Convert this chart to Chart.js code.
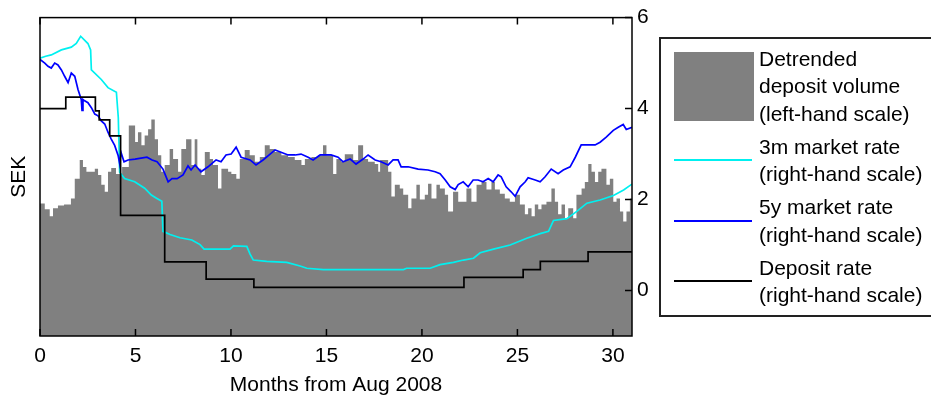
<!DOCTYPE html>
<html>
<head>
<meta charset="utf-8">
<script src="https://cdn.jsdelivr.net/npm/chart.js@4"></script>
<style>
  html, body { margin: 0; padding: 0; background: #ffffff; }
  #wrap { width: 931px; height: 398px; }
</style>
</head>
<body>
<div id="wrap"><canvas id="chart" width="931" height="398"></canvas></div>
<script>
// Months from Aug 2008
const xTicks = [0, 5, 10, 15, 20, 25, 30];
const rateTicks = [0, 2, 4, 6];

// Detrended deposit volume (left-hand scale, index units), value held from each month mark
const volMonths = [0,0.25,0.51,0.68,0.94,1.26,1.62,1.82,2.08,2.25,
  2.43,2.69,2.87,3.04,3.21,3.39,3.56,3.73,3.98,4.3,
  4.65,4.98,5.13,5.31,5.48,5.66,5.83,6.01,6.18,6.35,
  6.53,6.79,6.97,7.23,7.4,7.65,7.93,8.1,8.24,8.45,
  8.63,8.89,9.06,9.32,9.5,9.85,10.02,10.28,10.46,10.72,
  10.98,11.25,11.51,11.77,12.03,12.29,12.64,12.99,13.34,13.69,
  13.87,14.21,14.56,14.82,15.0,15.35,15.52,15.78,15.96,16.4,
  16.66,16.92,17.18,17.53,17.71,17.81,18.23,18.4,18.58,18.84,
  19.02,19.28,19.45,19.71,19.89,20.15,20.32,20.5,20.76,20.94,
  21.2,21.37,21.63,21.9,22.33,22.59,22.86,23.12,23.38,23.64,
  23.82,24.08,24.34,24.6,24.87,25.13,25.39,25.56,25.74,25.91,
  26.09,26.26,26.52,26.78,26.96,27.13,27.31,27.49,27.66,27.92,
  28.09,28.36,28.53,28.71,28.88,29.06,29.23,29.4,29.66,29.84,
  30.02,30.19,30.37,30.54,30.71,30.89,31];
const depositVolume = [41.6,39.8,37.6,40.1,41.0,41.3,43.2,49.4,55.3,53.1,
  51.6,51.6,52.5,50.6,47.5,45.3,51.6,52.8,50.9,53.1,
  66.1,60.9,64.0,59.9,63.0,64.9,68.0,61.8,56.8,51.6,
  53.7,58.7,55.6,51.6,58.7,61.8,53.7,61.8,52.5,50.6,
  57.8,55.6,53.7,46.3,52.5,51.6,50.9,49.4,55.6,58.4,
  56.8,54.7,56.2,59.9,58.7,57.8,56.8,56.2,55.3,53.7,
  55.6,56.2,56.8,59.9,56.8,50.9,55.6,54.7,57.1,55.3,
  59.9,55.6,54.7,54.0,51.6,55.3,51.6,43.8,47.5,46.3,
  44.4,40.1,43.2,47.5,42.9,44.4,47.8,43.2,47.5,46.3,
  44.4,39.1,45.3,42.2,46.3,42.2,47.5,48.4,46.0,48.4,
  46.0,44.7,43.2,42.2,44.4,41.3,38.2,40.1,37.6,41.3,
  39.8,41.3,42.2,46.3,42.2,38.2,41.3,37.0,40.1,37.0,
  44.4,46.3,48.4,54.0,51.6,48.4,51.6,52.5,47.5,49.4,
  42.2,43.2,39.1,36.0,39.1,43.2,43.2];

// 3m market rate (%, right-hand scale)
const m3Months = [0,0.3,0.59,1.12,1.64,1.9,2.13,2.51,2.65,2.69,
  3.21,3.56,4.0,4.1,4.17,4.43,4.96,5.48,5.83,6.1,
  6.38,6.44,6.81,7.33,7.95,8.38,8.59,9.95,10.13,10.83,
  11.0,11.17,11.87,12.92,13.62,13.97,14.84,19.03,19.2,20.43,
  20.95,21.65,22.17,22.7,23.05,23.75,24.62,25.49,26.19,26.63,
  26.89,27.59,28.11,28.64,29.33,30.03,30.56,31];
const m3Rate = [5.11,5.15,5.18,5.29,5.35,5.43,5.59,5.43,5.29,4.85,
  4.64,4.46,4.36,3.8,2.6,2.46,2.39,2.25,2.1,2.03,
  1.96,1.3,1.23,1.16,1.11,1.01,0.91,0.91,0.98,0.97,
  0.8,0.67,0.64,0.62,0.54,0.49,0.46,0.46,0.49,0.49,
  0.57,0.62,0.67,0.71,0.83,0.91,1.0,1.15,1.25,1.3,
  1.54,1.58,1.74,1.92,1.99,2.09,2.21,2.34];

// 5y market rate (%, right-hand scale)
const y5Months = [0,0.25,0.42,0.59,0.77,0.94,1.12,1.29,1.47,1.64,
  1.82,1.99,2.16,2.2,2.25,2.34,2.51,2.69,2.87,3.04,
  3.21,3.39,3.56,3.73,3.91,4.09,4.17,4.24,4.4,4.61,
  4.98,5.29,5.6,5.87,6.13,6.44,6.71,6.91,7.18,7.49,
  7.75,7.91,8.12,8.43,8.8,9.22,9.48,9.74,10.01,10.27,
  10.53,11.0,11.31,11.68,12.05,12.31,12.62,12.99,13.36,13.67,
  14.04,14.3,14.67,14.93,15.24,15.61,15.87,16.24,16.55,16.92,
  17.18,17.55,17.86,18.23,18.49,18.75,18.91,19.28,19.8,20.32,
  20.69,20.95,21.22,21.48,21.74,21.9,22.16,22.42,22.68,22.94,
  23.2,23.47,23.73,23.99,24.15,24.41,24.67,24.88,25.14,25.41,
  25.56,25.93,26.19,26.45,26.77,27.13,27.4,27.76,28.03,28.34,
  28.71,29.07,29.33,29.65,30.02,30.28,30.54,30.7,31];
const y5Rate = [5.08,5.0,4.93,4.89,5.0,4.96,4.85,4.71,4.57,4.78,
  4.71,4.42,4.2,3.96,4.2,4.17,4.13,4.02,3.88,3.84,
  3.73,3.66,3.48,3.33,3.19,2.97,2.79,3.04,2.83,2.87,
  2.89,2.91,2.93,2.87,2.83,2.67,2.39,2.46,2.46,2.54,
  2.74,2.65,2.76,2.61,2.72,2.87,2.83,2.98,3.0,3.15,
  2.93,2.87,2.76,2.87,3.0,3.09,3.04,2.98,2.98,3.0,
  2.93,2.87,2.98,2.98,2.98,2.93,2.83,2.89,2.78,2.89,
  2.98,2.87,2.83,2.76,2.87,2.87,2.72,2.72,2.67,2.65,
  2.61,2.57,2.43,2.28,2.22,2.33,2.39,2.28,2.43,2.43,
  2.39,2.46,2.39,2.54,2.5,2.28,2.17,2.07,2.28,2.39,
  2.48,2.43,2.39,2.5,2.67,2.57,2.65,2.72,2.93,3.2,
  3.2,3.2,3.26,3.37,3.52,3.59,3.65,3.54,3.59];

// Deposit rate (%, right-hand scale), value held from each change date
const depMonths = [0,1.35,2.9,3.1,3.65,4.22,6.53,8.7,11.2,22.2,25.3,26.2,28.7,31];
const depRate   = [4.0,4.25,3.95,3.75,3.4,1.65,0.63,0.25,0.07,0.29,0.46,0.64,0.85,0.85];

const FONT = '"Liberation Sans", Arial, sans-serif';
const pts = (xs, ys) => xs.map((x, i) => ({ x, y: ys[i] }));

// Frame and inward tick marks
const framePlugin = {
  id: 'frame',
  afterDatasetsDraw(chart) {
    const { ctx, chartArea: a, scales } = chart;
    ctx.save();
    ctx.strokeStyle = '#000';
    ctx.lineWidth = 1.5;
    ctx.strokeRect(a.left, a.top, a.right - a.left, a.bottom - a.top);
    ctx.lineWidth = 1.5;
    const tl = 7;
    ctx.beginPath();
    xTicks.forEach(v => {
      const px = scales.x.getPixelForValue(v);
      ctx.moveTo(px, a.bottom); ctx.lineTo(px, a.bottom - tl);
      ctx.moveTo(px, a.top); ctx.lineTo(px, a.top + tl);
    });
    rateTicks.forEach(v => {
      const py = scales.yR.getPixelForValue(v);
      ctx.moveTo(a.right, py); ctx.lineTo(a.right - tl, py);
    });
    ctx.stroke();
    ctx.restore();
  }
};

// Boxed legend to the right of the plot, multi-line entries
const legendPlugin = {
  id: 'boxLegend',
  afterDraw(chart) {
    const { ctx } = chart;
    const a = chart.chartArea;
    const bx = 660, by = 38, bw = 290, bh = 278;
    ctx.save();
    ctx.fillStyle = '#fff';
    ctx.fillRect(bx, by, bw, bh);
    ctx.strokeStyle = '#222';
    ctx.lineWidth = 2;
    ctx.strokeRect(bx, by, bw, bh);
    ctx.font = '21px ' + FONT;
    ctx.fillStyle = '#000';
    ctx.textBaseline = 'middle';
    ctx.textAlign = 'left';
    const order = [3, 2, 1, 0];
    let y = 60;
    order.forEach(idx => {
      const ds = chart.data.datasets[idx];
      const lines = ds.legendText;
      const first = y;
      lines.forEach(t => { ctx.fillText(t, 759, y); y += 27.5; });
      const last = y - 27.5;
      if (ds.swatch === 'box') {
        ctx.fillStyle = ds.backgroundColor;
        ctx.fillRect(674, 52, 80, 69);
        ctx.fillStyle = '#000';
      } else {
        const ly = Math.round((first + last) / 2 - 1.5);
        ctx.strokeStyle = ds.borderColor;
        ctx.lineWidth = 2;
        ctx.beginPath();
        ctx.moveTo(674, ly); ctx.lineTo(752, ly);
        ctx.stroke();
      }
      y += 5.5;
    });
    ctx.restore();
  }
};

new Chart(document.getElementById('chart'), {
  type: 'line',
  data: {
    datasets: [
      {
        label: 'Deposit rate',
        legendText: ['Deposit rate', '(right-hand scale)'],
        data: pts(depMonths, depRate),
        yAxisID: 'yR', stepped: 'before',
        borderColor: '#000000', borderWidth: 1.7,
        pointRadius: 0, fill: false, order: 0
      },
      {
        label: '5y market rate',
        legendText: ['5y market rate', '(right-hand scale)'],
        data: pts(y5Months, y5Rate),
        yAxisID: 'yR',
        borderColor: '#0000ff', borderWidth: 1.7,
        pointRadius: 0, fill: false, tension: 0, order: 1
      },
      {
        label: '3m market rate',
        legendText: ['3m market rate', '(right-hand scale)'],
        data: pts(m3Months, m3Rate),
        yAxisID: 'yR',
        borderColor: '#00f0f0', borderWidth: 1.7,
        pointRadius: 0, fill: false, tension: 0, order: 2
      },
      {
        label: 'Detrended deposit volume',
        legendText: ['Detrended', 'deposit volume', '(left-hand scale)'],
        swatch: 'box',
        data: pts(volMonths, depositVolume),
        yAxisID: 'yL', stepped: 'before',
        borderColor: '#808080', borderWidth: 0,
        backgroundColor: '#808080',
        pointRadius: 0, fill: 'start', order: 3
      }
    ]
  },
  options: {
    responsive: false,
    animation: false,
    devicePixelRatio: 1,
    layout: { padding: { left: 0, top: 14, right: 269, bottom: 0 } },
    plugins: { legend: { display: false }, tooltip: { enabled: false } },
    scales: {
      x: {
        type: 'linear', min: 0, max: 31,
        afterBuildTicks: s => { s.ticks = xTicks.map(v => ({ value: v })); },
        ticks: { color: '#000', font: { family: FONT, size: 21 }, padding: 8, maxRotation: 0 },
        grid: { display: false, drawTicks: false },
        border: { display: false },
        title: { display: true, text: 'Months from Aug 2008', color: '#000',
                 font: { family: FONT, size: 21 }, padding: { top: 0, bottom: 0 } },
        afterFit: s => { s.height = 62; }
      },
      yL: {
        type: 'linear', position: 'left', min: 0, max: 100,
        ticks: { display: false },
        grid: { display: false, drawTicks: false },
        border: { display: false },
        title: { display: true, text: 'SEK', color: '#000',
                 font: { family: FONT, size: 21 }, padding: { top: 7, bottom: 0 } },
        afterFit: s => { s.width = 40; }
      },
      yR: {
        type: 'linear', position: 'right', min: -1, max: 6,
        afterBuildTicks: s => { s.ticks = rateTicks.map(v => ({ value: v })); },
        ticks: { color: '#000', font: { family: FONT, size: 21 }, padding: 5 },
        grid: { display: false, drawTicks: false },
        border: { display: false },
        afterFit: s => { s.width = 30; }
      }
    }
  },
  plugins: [framePlugin, legendPlugin]
});
</script>
</body>
</html>
